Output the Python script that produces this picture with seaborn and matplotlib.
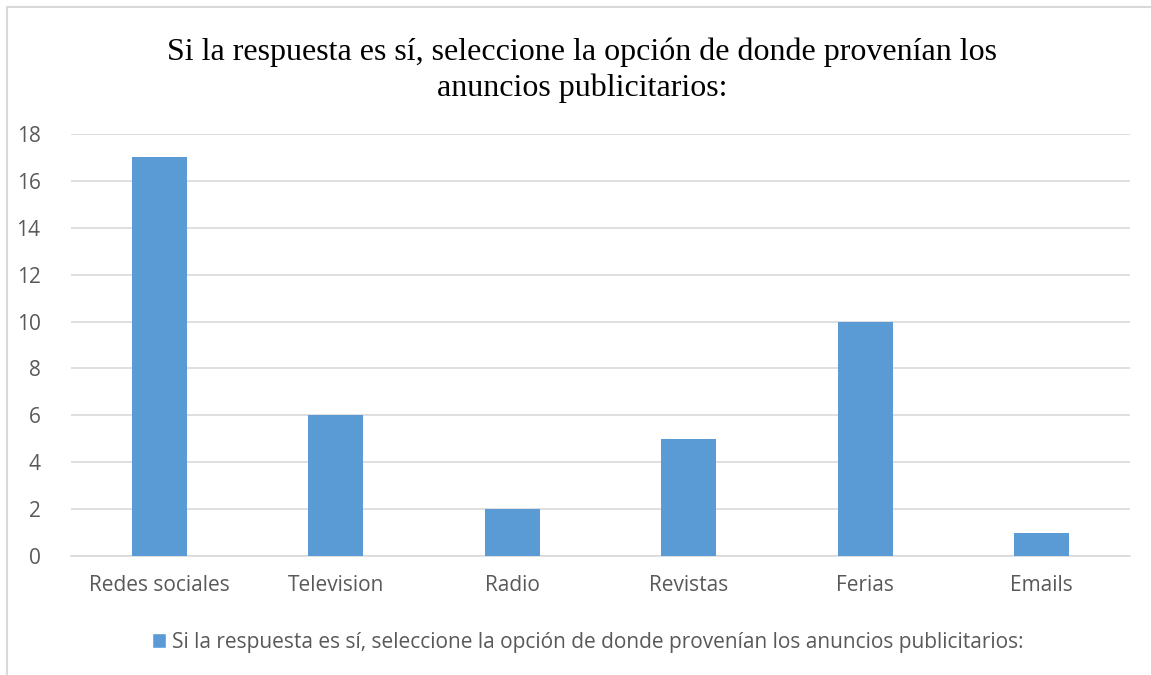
import matplotlib
matplotlib.use("Agg")
import matplotlib.pyplot as plt
import seaborn as sns
import pandas as pd
from matplotlib.patches import Patch

categorias = ["Redes sociales", "Television", "Radio", "Revistas", "Ferias", "Emails"]
valores = [17, 6, 2, 5, 10, 1]
serie = "Si la respuesta es sí, seleccione la opción de donde provenían los anuncios publicitarios:"
titulo = "Si la respuesta es sí, seleccione la opción de donde provenían los\nanuncios publicitarios:"

df = pd.DataFrame({"categoria": categorias, "valor": valores})

sns.set_style("white")
plt.rcParams['font.family'] = ['Open Sans', 'DejaVu Sans']

color_barra = "#5B9BD5"
color_texto = "#595959"

fig = plt.figure(figsize=(11.51, 6.75), dpi=100)
ax = fig.add_axes([0.0617, 0.1763, 0.92, 0.6252])

sns.barplot(data=df, x="categoria", y="valor", color=color_barra, width=0.31,
            saturation=1, linewidth=0, ax=ax, zorder=3)

ax.set_ylim(0, 18)
ax.set_yticks(range(0, 19, 2))
ax.set_xlim(-0.5, len(categorias) - 0.5)
ax.yaxis.grid(True, color="#D9D9D9", linewidth=1.2, zorder=0)
ax.set_axisbelow(True)
for s in ["top", "right", "left"]:
    ax.spines[s].set_visible(False)
ax.spines["bottom"].set_color("#D9D9D9")
ax.spines["bottom"].set_linewidth(1.2)
ax.set_xlabel("")
ax.set_ylabel("")
ax.tick_params(axis="both", length=0, labelsize=15, labelcolor=color_texto)
ax.tick_params(axis="y", pad=22)
ax.tick_params(axis="x", pad=14)

fig.text(0.506, 0.896, titulo, ha="center", va="center", fontsize=23,
         family="Liberation Serif", color="black", linespacing=1.25)

leg = ax.legend(handles=[Patch(facecolor=color_barra, label=serie)],
                loc="center", bbox_to_anchor=(0.488, -0.205), frameon=False,
                fontsize=15, handlelength=0.7, handleheight=0.7,
                handletextpad=0.3)
for t in leg.get_texts():
    t.set_color(color_texto)

# borde del grafico
fig.add_artist(plt.Line2D([0.0061, 0.0061], [0, 0.9896], transform=fig.transFigure,
                          color="#D9D9D9", linewidth=1.5))
fig.add_artist(plt.Line2D([0.0061, 1], [0.9896, 0.9896], transform=fig.transFigure,
                          color="#D9D9D9", linewidth=1.5))

fig.savefig("out.png", dpi=100, facecolor="white")
